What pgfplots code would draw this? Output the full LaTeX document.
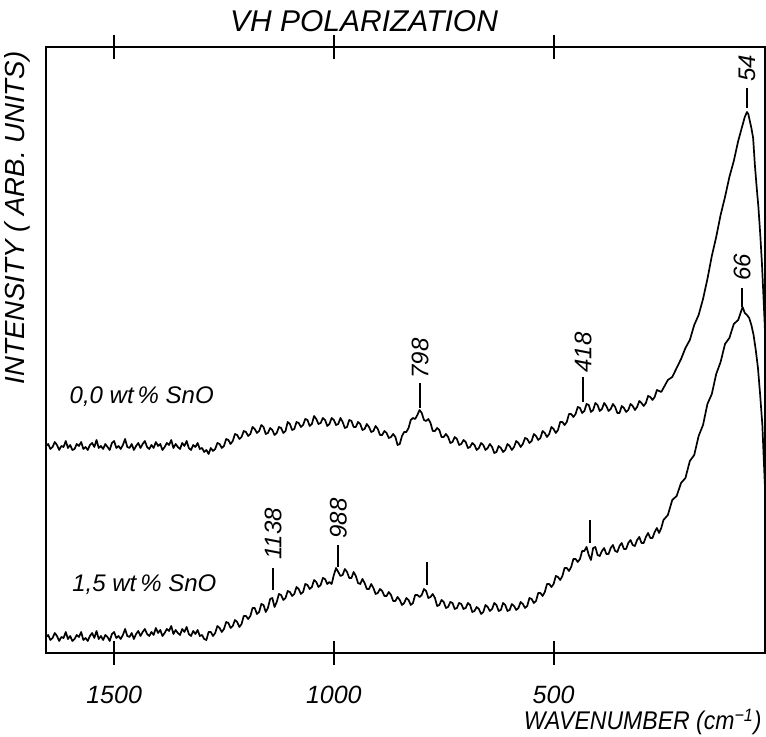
\documentclass[border=0pt]{standalone}
\usepackage{fontspec}
\setmainfont{Liberation Sans}
\newfontfamily\narrowfont{Liberation Sans}[FakeStretch=0.9]
\usepackage{pgfplots}
\pgfplotsset{compat=1.18}
\begin{document}
\begin{tikzpicture}
\useasboundingbox (0,0) rectangle (383pt,368.5pt);
\begin{axis}[
  at={(23pt,42pt)}, anchor=south west, scale only axis,
  width=359.5pt, height=303pt,
  xmin=19, xmax=1655, x dir=reverse, ymin=0, ymax=606,
  xtick={500,1000,1500}, xticklabels={500,1000,1500}, ytick=\empty,
  tick align=center, major tick length=12pt,
  xticklabel style={font=\fontsize{12.5}{14}\selectfont\itshape, yshift=-7pt},
  /pgf/number format/assume math mode=true,
  axis line style={line width=1pt},
  every tick/.style={line width=1pt, black},
  clip=true,
]
% 0,0 wt% SnO
\addplot[black, line width=0.85pt, line join=round] coordinates {
(1655,207)(1650,209)(1645,204)(1640,206)(1635,211)(1630,208)(1625,203)(1620,207)(1615,206)(1610,212)(1605,205)
(1600,208)(1595,203)(1590,204)(1585,209)(1580,207)(1575,211)(1570,204)(1565,206)(1560,203)(1555,208)
(1550,210)(1545,206)(1540,213)(1535,205)(1530,207)(1525,204)(1520,209)(1515,206)(1510,203)(1505,210)
(1500,212)(1495,205)(1490,207)(1485,204)(1480,208)(1475,214)(1470,206)(1465,205)(1460,209)(1455,203)
(1450,207)(1445,210)(1440,205)(1435,209)(1430,212)(1425,206)(1420,204)(1415,208)(1410,205)(1405,211)
(1400,207)(1395,209)(1390,203)(1385,206)(1380,210)(1375,208)(1370,213)(1365,205)(1360,209)(1355,206)
(1350,204)(1345,210)(1340,207)(1335,212)(1330,205)(1325,203)(1320,208)(1315,206)(1310,210)(1305,204)
(1300,205)(1295,201)(1290,203)(1285,199)(1280,205)(1275,202)(1270,204)(1265,210)(1260,209)(1255,205)
(1250,207)(1245,214)(1240,213)(1235,209)(1230,212)(1225,219)(1220,218)(1215,214)(1210,216)(1205,222)
(1200,221)(1195,217)(1190,219)(1185,226)(1180,224)(1175,220)(1170,222)(1165,228)(1160,226)(1155,219)
(1150,220)(1145,225)(1140,223)(1135,218)(1130,220)(1125,226)(1120,225)(1115,220)(1110,222)(1105,231)
(1100,229)(1095,223)(1090,224)(1085,231)(1080,230)(1075,226)(1070,228)(1065,234)(1060,233)(1055,227)
(1050,229)(1045,237)(1040,234)(1035,229)(1030,230)(1025,235)(1020,233)(1015,227)(1010,229)(1005,235)
(1000,233)(995,228)(990,229)(985,235)(980,231)(975,225)(970,226)(965,233)(960,232)(955,226)
(950,226)(945,231)(940,229)(935,223)(930,224)(925,229)(920,226)(915,221)(910,222)(905,227)
(900,224)(895,218)(890,218)(885,222)(880,220)(875,215)(870,216)(865,219)(860,216)(855,208)
(850,209)(845,217)(840,221)(835,221)(830,225)(825,233)(820,235)(815,234)(810,238)(805,243)
(800,240)(795,233)(790,232)(785,234)(780,230)(775,222)(770,222)(765,225)(760,223)(755,216)
(750,216)(745,219)(740,216)(735,210)(730,211)(725,216)(720,214)(715,208)(710,209)(705,213)
(700,211)(695,205)(690,206)(685,210)(680,208)(675,203)(670,205)(665,210)(660,208)(655,203)
(650,205)(645,209)(640,206)(635,200)(630,201)(625,207)(620,205)(615,201)(610,203)(605,209)
(600,207)(595,203)(590,206)(585,212)(580,210)(575,206)(570,209)(565,215)(560,214)(555,210)
(550,212)(545,219)(540,217)(535,213)(530,215)(525,222)(520,220)(515,216)(510,219)(505,226)
(500,224)(495,220)(490,223)(485,231)(480,231)(475,228)(470,231)(465,239)(460,239)(455,236)
(450,239)(445,246)(440,245)(435,240)(430,242)(425,249)(420,248)(415,241)(410,243)(405,250)
(400,248)(395,242)(390,244)(385,250)(380,247)(375,242)(370,244)(365,249)(360,246)(355,240)
(350,240)(345,247)(340,245)(335,241)(330,243)(325,249)(320,247)(315,243)(310,246)(305,252)
(300,250)(295,247)(290,250)(285,257)(280,256)(275,253)(270,256)(265,263)(260,262)(255,261)
(250,265)(240,273)(230,276)(220,285)(210,294)(200,305)(190,313)(180,328)(170,338)(160,354)
(150,374)(140,397)(130,416)(120,438)(110,456)(100,476)(90,492)(80,512)(70,528)(65,536)
(60,541)(57,539)(54,533)(50,525)(46,515)(42,488)(38,466)(34,446)(30,420)(26,390)(22,352)(18,312)(14,270)(10,230)
};
% 1,5 wt% SnO
\addplot[black, line width=0.85pt, line join=round] coordinates {
(1655,16)(1650,18)(1645,13)(1640,15)(1635,20)(1630,17)(1625,12)(1620,16)(1615,15)(1610,21)(1605,14)
(1600,17)(1595,12)(1590,14)(1585,18)(1580,16)(1575,21)(1570,13)(1565,15)(1560,12)(1555,17)
(1550,20)(1545,15)(1540,22)(1535,14)(1530,17)(1525,13)(1520,18)(1515,16)(1510,12)(1505,19)
(1500,21)(1495,15)(1490,17)(1485,14)(1480,18)(1475,24)(1470,17)(1465,16)(1460,20)(1455,14)
(1450,19)(1445,22)(1440,17)(1435,21)(1430,24)(1425,19)(1420,17)(1415,21)(1410,18)(1405,25)
(1400,20)(1395,23)(1390,17)(1385,20)(1380,24)(1375,22)(1370,27)(1365,19)(1360,23)(1355,20)
(1350,18)(1345,24)(1340,21)(1335,26)(1330,19)(1325,17)(1320,22)(1315,19)(1310,23)(1305,17)
(1300,18)(1295,14)(1290,13)(1285,21)(1280,21)(1275,17)(1270,20)(1265,27)(1260,25)(1255,21)
(1250,24)(1245,31)(1240,30)(1235,25)(1230,27)(1225,33)(1220,31)(1215,26)(1210,29)(1205,37)
(1200,37)(1195,34)(1190,37)(1185,45)(1180,45)(1175,39)(1170,41)(1165,49)(1160,48)(1155,41)
(1150,45)(1145,54)(1140,55)(1135,46)(1130,51)(1125,59)(1120,58)(1115,53)(1110,55)(1105,62)
(1100,61)(1095,57)(1090,59)(1085,66)(1080,64)(1075,59)(1070,61)(1065,69)(1060,68)(1055,64)
(1050,66)(1045,73)(1040,71)(1035,66)(1030,68)(1025,75)(1020,74)(1015,69)(1010,71)(1005,69)
(1000,78)(995,85)(990,81)(985,77)(980,78)(975,84)(970,81)(965,75)(960,75)(955,81)
(950,77)(945,70)(940,69)(935,74)(930,70)(925,64)(920,64)(915,69)(910,65)(905,59)
(900,60)(895,64)(890,62)(885,57)(880,57)(875,61)(870,58)(865,52)(860,52)(855,56)
(850,53)(845,48)(840,50)(835,55)(830,53)(825,48)(820,50)(815,58)(810,58)(805,56)
(800,58)(795,64)(790,62)(785,55)(780,56)(775,59)(770,55)(765,47)(760,48)(755,53)
(750,51)(745,45)(740,46)(735,51)(730,50)(725,44)(720,45)(715,50)(710,49)(705,44)
(700,45)(695,50)(690,48)(685,41)(680,42)(675,46)(670,44)(665,39)(660,41)(655,48)
(650,46)(645,42)(640,44)(635,50)(630,48)(625,42)(620,43)(615,50)(610,48)(605,42)
(600,43)(595,49)(590,47)(585,43)(580,45)(575,51)(570,49)(565,45)(560,47)(555,55)
(550,54)(545,50)(540,52)(535,60)(530,60)(525,57)(520,61)(515,69)(510,69)(505,66)
(500,69)(495,77)(490,76)(485,73)(480,77)(475,85)(470,85)(465,82)(460,86)(455,94)
(450,94)(445,91)(440,94)(435,102)(430,102)(425,106)(420,98)(415,93)(410,105)(405,106)
(400,98)(395,97)(390,102)(385,105)(380,99)(375,99)(370,105)(365,108)(360,102)(355,101)
(350,107)(345,110)(340,104)(335,104)(330,110)(325,113)(320,108)(315,107)(310,113)(305,116)
(300,110)(295,110)(290,116)(285,120)(280,115)(275,115)(270,121)(265,125)(260,120)(255,125)
(250,133)(240,138)(230,153)(220,157)(210,170)(200,175)(190,192)(180,198)(170,217)(160,228)
(150,249)(140,259)(130,279)(120,291)(110,309)(100,315)(90,329)(80,333)(70,346)(65,340)
(60,338)(55,335)(50,328)(45,318)(40,303)(35,285)(30,258)(25,228)(20,175)(15,130)
};
% peak annotations
\draw[line width=0.8pt] (axis cs:804,245) -- (axis cs:804,270);
\node[rotate=90, anchor=west, inner sep=0pt, font=\fontsize{12}{14}\selectfont\itshape] at (axis cs:804,274) {798};
\draw[line width=0.8pt] (axis cs:433,251) -- (axis cs:433,276);
\node[rotate=90, anchor=west, inner sep=0pt, font=\fontsize{12}{14}\selectfont\itshape] at (axis cs:433,280) {418};
\draw[line width=0.8pt] (axis cs:1138,63) -- (axis cs:1138,85);
\node[rotate=90, anchor=west, inner sep=0pt, font=\fontsize{12}{14}\selectfont\itshape] at (axis cs:1138,93) {1138};
\draw[line width=0.8pt] (axis cs:990,86) -- (axis cs:990,108);
\node[rotate=90, anchor=west, inner sep=0pt, font=\fontsize{12}{14}\selectfont\itshape] at (axis cs:990,114) {988};
\draw[line width=0.8pt] (axis cs:788,68) -- (axis cs:788,91);
\draw[line width=0.8pt] (axis cs:417,110) -- (axis cs:417,133);
\draw[line width=0.8pt] (axis cs:71,346) -- (axis cs:71,365);
\node[rotate=90, anchor=west, inner sep=0pt, font=\fontsize{12}{14}\selectfont\itshape] at (axis cs:71,372) {66};
\draw[line width=0.8pt] (axis cs:60,545) -- (axis cs:60,565);
\node[rotate=90, anchor=west, inner sep=0pt, font=\fontsize{12}{14}\selectfont\itshape] at (axis cs:60,571) {54};
% series labels
\node[anchor=west, inner sep=0pt, font=\fontsize{12}{14}\selectfont\itshape] at (axis cs:1602,256) {0,0 wt\,\% SnO};
\node[anchor=west, inner sep=0pt, font=\fontsize{12}{14}\selectfont\itshape] at (axis cs:1596,68) {1,5 wt\,\% SnO};
\end{axis}
\node[font=\fontsize{15}{17}\selectfont\itshape] at (182pt,358pt) {VH POLARIZATION};
\node[rotate=90, font=\fontsize{13.8}{16}\selectfont\itshape] at (8.5pt,259.5pt) {INTENSITY ( ARB. UNITS)};
\node[anchor=east, inner sep=0pt, font=\narrowfont\fontsize{12.8}{15}\selectfont\itshape] at (381pt,7.5pt) {WAVENUMBER (cm\textsuperscript{−1})};
\end{tikzpicture}
\end{document}
